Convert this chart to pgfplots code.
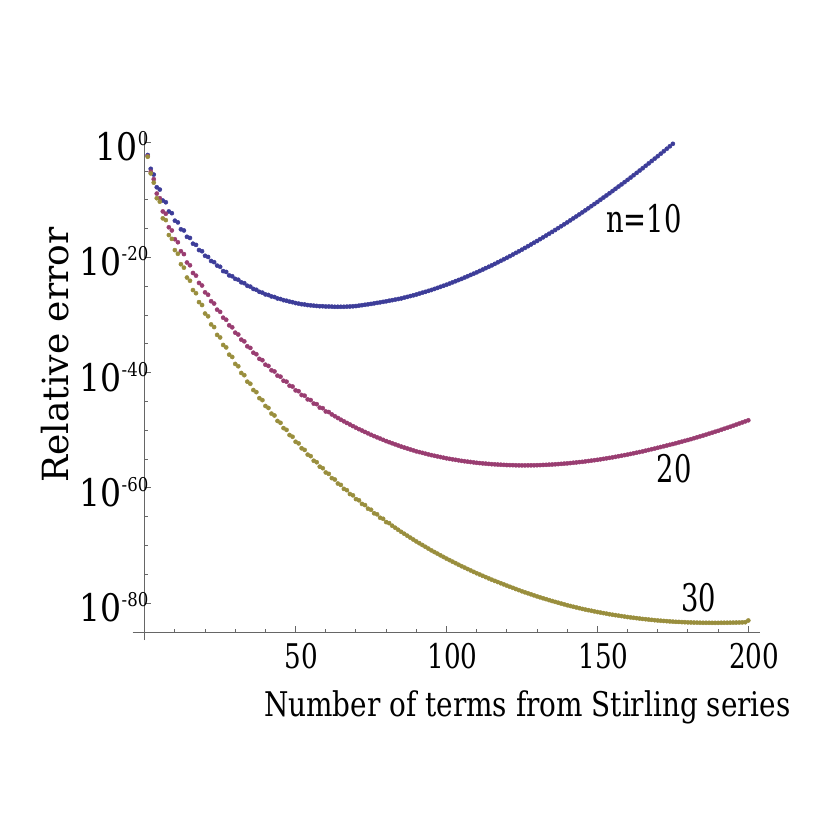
\documentclass[border=0pt]{standalone}
\usepackage{pgfplots}
\pgfplotsset{compat=1.18}
\usepackage{pgfplotstable}
\usepackage{fontspec}
\setmainfont{DejaVu Serif}
\newfontfamily\xfont[FakeStretch=0.77]{DejaVu Serif}
\newfontfamily\xlfont[FakeStretch=0.82]{DejaVu Serif}
\newfontfamily\yfont[FakeStretch=0.87]{DejaVu Serif}
\newfontfamily\lfont[FakeStretch=0.72]{DejaVu Serif}
\newcommand{\ylab}[1]{{\yfont\fontsize{19}{22}\selectfont 10\raisebox{7.5pt}{\fontsize{9.5}{11}\selectfont #1}}}
\definecolor{cA}{rgb}{0.24,0.24,0.6}
\definecolor{cB}{rgb}{0.6,0.24,0.442}
\definecolor{cC}{rgb}{0.6,0.5576,0.24}

% n = 10 : k, log10(relative error)
\pgfplotstableread{
k L
1 -2.2
2 -4.6
3 -5.6
4 -7.8
5 -8.2
6 -10.1
7 -10.4
8 -12.0
9 -12.3
10 -13.6
11 -13.9
12 -15.1
13 -15.3
14 -16.4
15 -16.6
16 -17.6
17 -17.8
18 -18.7
19 -18.9
20 -19.7
21 -19.9
22 -20.6
23 -20.8
24 -21.4
25 -21.6
26 -22.35
27 -22.5
28 -23.1
29 -23.25
30 -23.7
31 -23.85
32 -24.3
33 -24.45
34 -24.9
35 -25.05
36 -25.45
37 -25.6
38 -25.95
39 -26.1
40 -26.4
41 -26.5
42 -26.75
43 -26.85
44 -27.1
45 -27.2
46 -27.4
47 -27.5
48 -27.65
49 -27.75
50 -27.9
51 -28.0
52 -28.1
53 -28.15
54 -28.25
55 -28.3
56 -28.35
57 -28.4
58 -28.45
59 -28.45
60 -28.5
61 -28.5
62 -28.52
63 -28.55
64 -28.55
65 -28.55
66 -28.55
67 -28.52
68 -28.5
69 -28.46
70 -28.42
71 -28.35
72 -28.27
73 -28.2
74 -28.12
75 -28.05
76 -27.96
77 -27.87
78 -27.78
79 -27.69
80 -27.6
81 -27.5
82 -27.4
83 -27.3
84 -27.2
85 -27.1
86 -26.96
87 -26.83
88 -26.69
89 -26.56
90 -26.42
91 -26.26
92 -26.1
93 -25.95
94 -25.79
95 -25.63
96 -25.45
97 -25.27
98 -25.08
99 -24.9
100 -24.72
101 -24.52
102 -24.31
103 -24.11
104 -23.9
105 -23.7
106 -23.47
107 -23.25
108 -23.02
109 -22.8
110 -22.57
111 -22.33
112 -22.09
113 -21.84
114 -21.6
115 -21.36
116 -21.1
117 -20.83
118 -20.57
119 -20.3
120 -20.04
121 -19.76
122 -19.48
123 -19.19
124 -18.91
125 -18.63
126 -18.33
127 -18.03
128 -17.73
129 -17.43
130 -17.13
131 -16.81
132 -16.5
133 -16.18
134 -15.87
135 -15.55
136 -15.22
137 -14.89
138 -14.56
139 -14.23
140 -13.9
141 -13.55
142 -13.2
143 -12.86
144 -12.51
145 -12.16
146 -11.8
147 -11.44
148 -11.07
149 -10.71
150 -10.35
151 -9.97
152 -9.59
153 -9.22
154 -8.84
155 -8.46
156 -8.07
157 -7.68
158 -7.3
159 -6.91
160 -6.52
161 -6.12
162 -5.71
163 -5.31
164 -4.9
165 -4.5
166 -4.08
167 -3.66
168 -3.25
169 -2.83
170 -2.41
171 -1.98
172 -1.55
173 -1.12
174 -0.69
175 -0.26
}\dataA

% n = 20
\pgfplotstableread{
k L
1 -2.4
2 -5.1
3 -6.4
4 -8.9
5 -9.7
6 -12.0
7 -12.4
8 -14.75
9 -15.3
10 -16.82
11 -17.34
12 -18.9
13 -19.4
14 -20.86
15 -21.34
16 -22.68
17 -23.14
18 -24.41
19 -24.85
20 -26.04
21 -26.46
22 -27.58
23 -27.98
24 -29.05
25 -29.43
26 -30.44
27 -30.8
28 -31.77
29 -32.11
30 -33.04
31 -33.36
32 -34.25
33 -34.55
34 -35.41
35 -35.69
36 -36.52
37 -36.78
38 -37.58
39 -37.82
40 -38.6
41 -38.82
42 -39.57
43 -39.77
44 -40.5
45 -40.68
46 -41.39
47 -41.55
48 -42.25
49 -42.39
50 -43.06
51 -43.2
52 -43.86
53 -43.98
54 -44.62
55 -44.74
56 -45.35
57 -45.45
58 -46.05
59 -46.15
60 -46.72
61 -46.82
62 -47.23
63 -47.54
64 -47.85
65 -48.15
66 -48.43
67 -48.71
68 -48.98
69 -49.26
70 -49.54
71 -49.79
72 -50.03
73 -50.28
74 -50.52
75 -50.77
76 -50.99
77 -51.21
78 -51.42
79 -51.64
80 -51.86
81 -52.05
82 -52.24
83 -52.43
84 -52.62
85 -52.81
86 -52.98
87 -53.14
88 -53.31
89 -53.47
90 -53.64
91 -53.77
92 -53.9
93 -54.04
94 -54.17
95 -54.3
96 -54.41
97 -54.52
98 -54.63
99 -54.74
100 -54.85
101 -54.94
102 -55.03
103 -55.11
104 -55.2
105 -55.29
106 -55.36
107 -55.43
108 -55.49
109 -55.56
110 -55.63
111 -55.68
112 -55.73
113 -55.77
114 -55.82
115 -55.87
116 -55.9
117 -55.93
118 -55.96
119 -55.99
120 -56.02
121 -56.03
122 -56.04
123 -56.06
124 -56.07
125 -56.08
126 -56.08
127 -56.07
128 -56.07
129 -56.06
130 -56.05
131 -56.03
132 -56.0
133 -55.98
134 -55.95
135 -55.93
136 -55.89
137 -55.85
138 -55.81
139 -55.77
140 -55.73
141 -55.68
142 -55.62
143 -55.57
144 -55.51
145 -55.46
146 -55.39
147 -55.32
148 -55.25
149 -55.18
150 -55.11
151 -55.03
152 -54.94
153 -54.86
154 -54.77
155 -54.69
156 -54.59
157 -54.49
158 -54.4
159 -54.3
160 -54.2
161 -54.09
162 -53.98
163 -53.87
164 -53.76
165 -53.65
166 -53.52
167 -53.4
168 -53.27
169 -53.15
170 -53.02
171 -52.89
172 -52.76
173 -52.63
174 -52.5
175 -52.37
176 -52.23
177 -52.09
178 -51.95
179 -51.81
180 -51.67
181 -51.52
182 -51.36
183 -51.21
184 -51.05
185 -50.9
186 -50.74
187 -50.57
188 -50.41
189 -50.24
190 -50.08
191 -49.9
192 -49.72
193 -49.55
194 -49.37
195 -49.19
196 -49.0
197 -48.81
198 -48.63
199 -48.44
200 -48.25
}\dataB

% n = 30
\pgfplotstableread{
k L
1 -2.5
2 -5.4
3 -7.0
4 -9.7
5 -10.3
6 -13.2
7 -13.5
8 -16.1
9 -16.76
10 -18.71
11 -19.35
12 -21.16
13 -21.76
14 -23.47
15 -24.03
16 -25.65
17 -26.19
18 -27.74
19 -28.24
20 -29.72
21 -30.2
22 -31.61
23 -32.07
24 -33.43
25 -33.87
26 -35.18
27 -35.6
28 -36.86
29 -37.26
30 -38.47
31 -38.87
32 -40.04
33 -40.42
34 -41.55
35 -41.91
36 -43.0
37 -43.36
38 -44.41
39 -44.75
40 -45.77
41 -46.11
42 -47.09
43 -47.41
44 -48.37
45 -48.69
46 -49.61
47 -49.91
48 -50.81
49 -51.11
50 -51.98
51 -52.26
52 -53.11
53 -53.39
54 -54.21
55 -54.47
56 -55.27
57 -55.53
58 -56.3
59 -56.56
60 -57.31
61 -57.55
62 -58.29
63 -58.53
64 -59.23
65 -59.47
66 -60.16
67 -60.38
68 -61.05
69 -61.27
70 -61.93
71 -62.13
72 -62.77
73 -62.97
74 -63.6
75 -63.78
76 -64.39
77 -64.57
78 -65.17
79 -65.35
80 -65.92
81 -66.1
82 -66.55
83 -66.9
84 -67.26
85 -67.62
86 -67.95
87 -68.28
88 -68.62
89 -68.95
90 -69.28
91 -69.59
92 -69.9
93 -70.21
94 -70.52
95 -70.83
96 -71.12
97 -71.4
98 -71.69
99 -71.97
100 -72.26
101 -72.52
102 -72.79
103 -73.05
104 -73.32
105 -73.58
106 -73.82
107 -74.07
108 -74.31
109 -74.56
110 -74.8
111 -75.02
112 -75.25
113 -75.47
114 -75.7
115 -75.92
116 -76.13
117 -76.33
118 -76.54
119 -76.74
120 -76.95
121 -77.15
122 -77.34
123 -77.54
124 -77.73
125 -77.93
126 -78.11
127 -78.28
128 -78.46
129 -78.64
130 -78.82
131 -78.98
132 -79.14
133 -79.3
134 -79.46
135 -79.62
136 -79.77
137 -79.91
138 -80.06
139 -80.2
140 -80.35
141 -80.48
142 -80.61
143 -80.73
144 -80.86
145 -80.99
146 -81.1
147 -81.21
148 -81.31
149 -81.42
150 -81.53
151 -81.62
152 -81.72
153 -81.81
154 -81.91
155 -82.0
156 -82.08
157 -82.16
158 -82.24
159 -82.32
160 -82.4
161 -82.47
162 -82.53
163 -82.6
164 -82.66
165 -82.73
166 -82.78
167 -82.84
168 -82.89
169 -82.95
170 -83.0
171 -83.04
172 -83.08
173 -83.12
174 -83.16
175 -83.2
176 -83.23
177 -83.25
178 -83.28
179 -83.3
180 -83.33
181 -83.34
182 -83.36
183 -83.37
184 -83.39
185 -83.4
186 -83.4
187 -83.4
188 -83.41
189 -83.41
190 -83.41
191 -83.4
192 -83.39
193 -83.39
194 -83.38
195 -83.37
196 -83.36
197 -83.35
198 -83.33
199 -83.3
200 -83.0
}\dataC

\begin{document}
\begin{tikzpicture}
\begin{axis}[
  at={(0,0)}, anchor=south west,
  scale only axis, width=301.8pt, height=249.45pt,
  xmin=0, xmax=200,
  ymode=log, ymin=1e-85, ymax=39.81,
  axis x line=bottom, axis y line=left,
  axis line style={black!60, line width=0.5pt},
  x axis line style={-, shorten <=-6pt, shorten >=-6pt},
  y axis line style={-, shorten <=-4pt},
  tick align=inside,
  major tick length=3pt, minor tick length=1.7pt,
  tick style={black!60, line width=0.5pt},
  xtick={50,100,150,200},
  xticklabels={50,100,150,200},
  minor xtick={10,20,30,40,60,70,80,90,110,120,130,140,160,170,180,190},
  xticklabel style={font=\xfont\fontsize{17}{20}\selectfont, anchor=north, inner sep=0pt, yshift=-5.5pt, xshift=3pt},
  ytick={1e-80,1e-60,1e-40,1e-20,1},
  yticklabels={\ylab{-80},\ylab{-60},\ylab{-40},\ylab{-20},\ylab{0}},
  minor ytick={1e-75,1e-70,1e-65,1e-55,1e-50,1e-45,1e-35,1e-30,1e-25,1e-15,1e-10,1e-5},
  yticklabel style={anchor=east, inner sep=0pt, xshift=2pt, yshift=-2pt},
  xlabel={Number of terms from Stirling series},
  xlabel style={font=\xlfont\fontsize{17}{20}\selectfont, at={(axis description cs:0.634,-0.170)}, anchor=base, inner sep=0pt},
  ylabel={Relative error},
  ylabel style={font=\fontsize{18}{21}\selectfont, at={(axis description cs:-0.149,0.555)}, anchor=center, inner sep=0pt},
  clip=false,
]
\addplot[only marks, mark=*, mark size=1.05pt, color=cA, mark options={line width=0.2pt}]
  table[x=k, y expr={10^(\thisrow{L})}] {\dataA};
\addplot[only marks, mark=*, mark size=1.05pt, color=cB, mark options={line width=0.2pt}]
  table[x=k, y expr={10^(\thisrow{L})}] {\dataB};
\addplot[only marks, mark=*, mark size=1.05pt, color=cC, mark options={line width=0.2pt}]
  table[x=k, y expr={10^(\thisrow{L})}] {\dataC};
\node[font=\lfont\fontsize{19}{22}\selectfont, anchor=base, inner sep=0pt] at (axis cs:165.4,1.82e-16) {n=10};
\node[font=\lfont\fontsize{19}{22}\selectfont, anchor=base, inner sep=0pt] at (axis cs:175.5,7.6e-60) {20};
\node[font=\lfont\fontsize{19}{22}\selectfont, anchor=base, inner sep=0pt] at (axis cs:183.5,3.16e-82) {30};
\end{axis}
\pgfresetboundingbox
\path[use as bounding box] (-72.35pt,-104pt) rectangle (347.65pt,316pt);
\end{tikzpicture}
\end{document}
